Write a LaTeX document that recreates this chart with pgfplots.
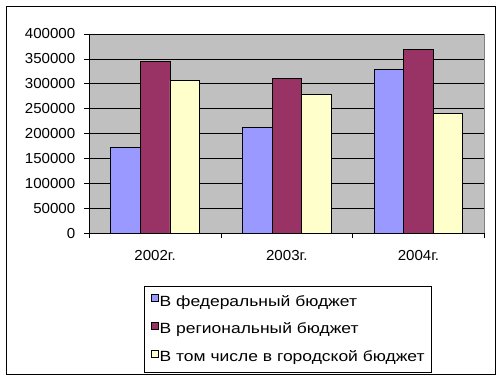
\documentclass[border=0pt]{standalone}
\usepackage{fontspec}
\setmainfont{Liberation Sans}
\newfontfamily\tickfont[FakeStretch=1.04]{Liberation Sans}
\newfontfamily\legfont[FakeStretch=1.18]{Liberation Sans}
\usepackage{pgfplots}
\pgfplotsset{compat=1.18}
\definecolor{cblue}{HTML}{9999FF}
\definecolor{cred}{HTML}{993366}
\definecolor{cyel}{HTML}{FFFFCC}
\definecolor{cbg}{HTML}{C0C0C0}
\definecolor{cbord}{HTML}{808080}
\pgfplotsset{
  sqleg/.style={legend image code/.code={\draw[##1,draw=black,line width=0.6pt] (0pt,0pt) rectangle (7.4pt,7.4pt);}}
}
\begin{document}
\begin{tikzpicture}[x=1pt,y=1pt]
\useasboundingbox (0,0) rectangle (504,384);
\draw[line width=1pt] (6.5,377.5) rectangle (495.7,9.3);
\begin{axis}[
  at={(89.3pt,150.7pt)}, anchor=south west,
  width=395pt, height=199.3pt, scale only axis,
  ybar=0pt, bar width=29.6pt,
  xmin=-0.5, xmax=2.5, ymin=0, ymax=400000,
  ytick={0,50000,100000,150000,200000,250000,300000,350000,400000},
  yticklabels={0,50000,100000,150000,200000,250000,300000,350000,400000},
  scaled y ticks=false,
  xtick={0,1,2}, xticklabels={2002г.,2003г.,2004г.},
  minor xtick={-0.5,0.5,1.5,2.5},
  major x tick style={draw=none},
  minor x tick style={draw=black, line width=0.8pt},
  minor tick length=5pt,
  major tick length=5pt,
  y tick style={draw=black, line width=0.8pt},
  tick align=outside, tick pos=left,
  ymajorgrids, grid style={black, line width=0.8pt},
  axis x line*=bottom, axis y line*=left,
  axis line style={-, black, line width=0.8pt},
  axis background/.style={fill=cbg, draw=cbord, line width=0.8pt},
  tick label style={font=\tickfont\fontsize{14.5}{16}\selectfont},
  yticklabel style={xshift=-5.5pt},
  xticklabel style={yshift=-9pt},
  legend style={at={(0.1392,-0.2644)}, anchor=north west, draw=black, line width=0.8pt,
    font=\legfont\fontsize{14.8}{16}\selectfont, row sep=12.7pt, column sep=0pt,
    inner xsep=6pt, inner ysep=7.5pt,
    nodes={inner xsep=1pt, inner ysep=0pt, text height=12pt, text depth=3pt}},
  legend cell align=left,
]
\addplot[fill=cblue, draw=black, line width=0.8pt, sqleg] coordinates {(0,172000) (1,213000) (2,329000)};
\addplot[fill=cred, draw=black, line width=0.8pt, sqleg] coordinates {(0,345000) (1,311000) (2,369000)};
\addplot[fill=cyel, draw=black, line width=0.8pt, sqleg] coordinates {(0,307000) (1,279000) (2,241000)};
\legend{В федеральный бюджет, В региональный бюджет, В том числе в городской бюджет}
\end{axis}
\end{tikzpicture}
\end{document}
